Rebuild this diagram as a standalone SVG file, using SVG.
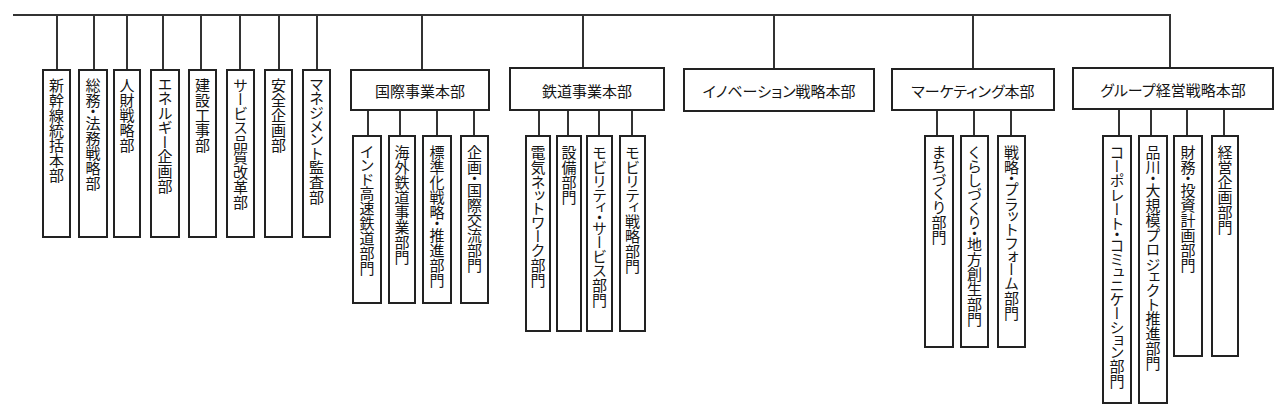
<svg xmlns="http://www.w3.org/2000/svg" width="1280" height="414" viewBox="0 0 1280 414">
<style>
.bx{fill:#fff;stroke:#222;stroke-width:2}
.ln{fill:none;stroke:#333;stroke-width:2}
text{font-family:"Noto Sans CJK JP","Noto Sans",sans-serif;font-size:15px;fill:#151515}
.v{writing-mode:vertical-rl;text-orientation:mixed}
.v .p{font-feature-settings:"vpal" 1}
.h{text-anchor:middle;dominant-baseline:central}
.h .p{font-feature-settings:"palt" 1}
</style>
<rect width="1280" height="414" fill="#fff"/>
<g id="connectors">
<path class="ln" d="M13 15H1170V68"/>
<path class="ln" d="M57 15V70M94 15V70M127 15V70M163 15V70M201 15V70M240 15V70M279 15V70M317 15V70"/>
<path class="ln" d="M422 15V70M583 15V68M774 15V69M973 15V69"/>
<path class="ln" d="M368 110V136M400 110V136M437 110V136M474 110V136"/>
<path class="ln" d="M539 110V136M568 110V136M599 110V136M632 110V136"/>
<path class="ln" d="M937 110V136M974 110V136M1011 110V136"/>
<path class="ln" d="M1119 109V136M1151 109V136M1187 109V136M1224 109V136"/>
</g>
<g id="n1"><rect class="bx" x="43" y="70" width="27" height="167"/><text class="v" x="56.5" y="78">新幹線統括本部</text></g>
<g id="n2"><rect class="bx" x="79" y="70" width="28" height="167"/><text class="v" x="93" y="78">総務<tspan class="p">・</tspan>法務戦略部</text></g>
<g id="n3"><rect class="bx" x="114" y="70" width="26" height="167"/><text class="v" x="127" y="78">人財戦略部</text></g>
<g id="n4"><rect class="bx" x="151" y="70" width="28" height="167"/><text class="v" x="165" y="78"><tspan class="p">エネルギー</tspan>企画部</text></g>
<g id="n5"><rect class="bx" x="189" y="70" width="27" height="167"/><text class="v" x="202.5" y="78">建設工事部</text></g>
<g id="n6"><rect class="bx" x="227" y="70" width="27" height="167"/><text class="v" x="240.5" y="78"><tspan class="p">サービス</tspan>品質改革部</text></g>
<g id="n7"><rect class="bx" x="265" y="70" width="27" height="167"/><text class="v" x="278.5" y="78">安全企画部</text></g>
<g id="n8"><rect class="bx" x="303" y="70" width="27" height="167"/><text class="v" x="316.5" y="78"><tspan class="p">マネジメント</tspan>監査部</text></g>
<g id="kokusai"><rect class="bx" x="351" y="70" width="138" height="40"/><text class="h" x="420" y="90">国際事業本部</text></g>
<g id="k1"><rect class="bx" x="353" y="136" width="28" height="167"/><text class="v" x="367" y="145"><tspan class="p">インド</tspan>高速鉄道部門</text></g>
<g id="k2"><rect class="bx" x="389" y="136" width="26" height="167"/><text class="v" x="402" y="145">海外鉄道事業部門</text></g>
<g id="k3"><rect class="bx" x="423" y="136" width="28" height="167"/><text class="v" x="437" y="145">標準化戦略<tspan class="p">・</tspan>推進部門</text></g>
<g id="k4"><rect class="bx" x="461" y="136" width="27" height="167"/><text class="v" x="474.5" y="145">企画<tspan class="p">・</tspan>国際交流部門</text></g>
<g id="tetsudo"><rect class="bx" x="510" y="68" width="154" height="42"/><text class="h" x="587" y="90">鉄道事業本部</text></g>
<g id="t1"><rect class="bx" x="526" y="136" width="24" height="195"/><text class="v" x="538" y="145">電気<tspan class="p">ネットワーク</tspan>部門</text></g>
<g id="t2"><rect class="bx" x="557" y="136" width="24" height="195"/><text class="v" x="569" y="145">設備部門</text></g>
<g id="t3"><rect class="bx" x="587" y="136" width="25" height="195"/><text class="v" x="599.5" y="145"><tspan class="p">モビリティ・サービス</tspan>部門</text></g>
<g id="t4"><rect class="bx" x="620" y="136" width="25" height="195"/><text class="v" x="632.5" y="145"><tspan class="p">モビリティ</tspan>戦略部門</text></g>
<g id="innov"><rect class="bx" x="684" y="69" width="190" height="42"/><text class="h" x="779" y="90"><tspan class="p">イノベーション</tspan>戦略本部</text></g>
<g id="marketing"><rect class="bx" x="892" y="69" width="162" height="41"/><text class="h" x="973" y="90"><tspan class="p">マーケティング</tspan>本部</text></g>
<g id="m1"><rect class="bx" x="925" y="136" width="28" height="211"/><text class="v" x="939" y="145"><tspan class="p">まちづくり</tspan>部門</text></g>
<g id="m2"><rect class="bx" x="961" y="136" width="27" height="211"/><text class="v" x="974.5" y="145"><tspan class="p">くらしづくり・</tspan>地方創生部門</text></g>
<g id="m3"><rect class="bx" x="998" y="136" width="27" height="211"/><text class="v" x="1011.5" y="145">戦略<tspan class="p">・プラットフォーム</tspan>部門</text></g>
<g id="group"><rect class="bx" x="1073" y="68" width="200" height="41"/><text class="h" x="1173" y="89"><tspan class="p">グループ</tspan>経営戦略本部</text></g>
<g id="g1"><rect class="bx" x="1103" y="136" width="28" height="267"/><text class="v" x="1117" y="145"><tspan class="p">コーポレート・コミュニケーション</tspan>部門</text></g>
<g id="g2"><rect class="bx" x="1139" y="136" width="28" height="267"/><text class="v" x="1153" y="145">品川<tspan class="p">・</tspan>大規模<tspan class="p">プロジェクト</tspan>推進部門</text></g>
<g id="g3"><rect class="bx" x="1174" y="136" width="28" height="220"/><text class="v" x="1188" y="145">財務<tspan class="p">・</tspan>投資計画部門</text></g>
<g id="g4"><rect class="bx" x="1212" y="136" width="26" height="220"/><text class="v" x="1225" y="145">経営企画部門</text></g>
</svg>
